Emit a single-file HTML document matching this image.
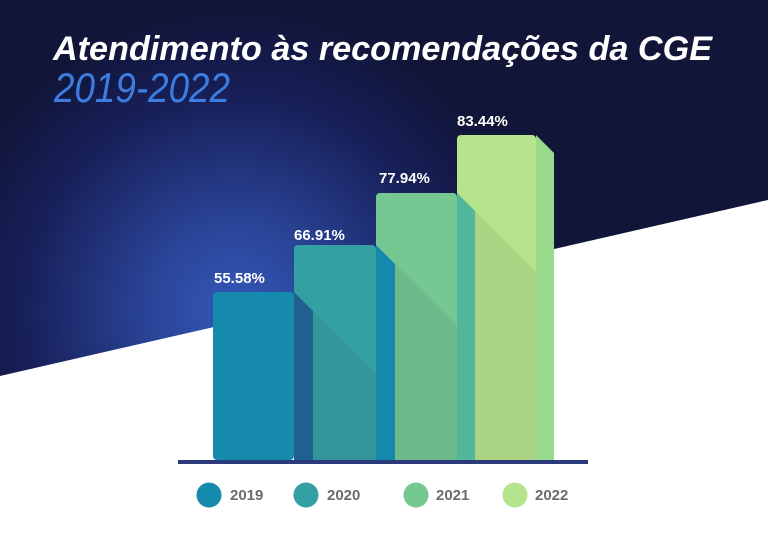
<!DOCTYPE html>
<html><head><meta charset="utf-8"><style>html,body{margin:0;padding:0;background:#fff}svg{display:block}</style></head>
<body>
<svg width="768" height="538" viewBox="0 0 768 538" xmlns="http://www.w3.org/2000/svg">
<defs>
<radialGradient id="glow" cx="235" cy="310" r="300" gradientUnits="userSpaceOnUse">
<stop offset="0" stop-color="#3358b8"/>
<stop offset="0.3" stop-color="#2a4396"/>
<stop offset="0.7" stop-color="#18205a"/>
<stop offset="1" stop-color="#111538"/>
</radialGradient>
</defs>
<rect width="768" height="538" fill="#fff"/>
<polygon points="0,0 768,0 768,200 0,376" fill="url(#glow)"/>
<text x="53" y="60" font-family="Liberation Sans, sans-serif" font-weight="bold" font-style="italic" font-size="34" fill="#fff" textLength="659" lengthAdjust="spacingAndGlyphs">Atendimento às recomendações da CGE</text>
<text x="54" y="102" font-family="Liberation Sans, sans-serif" font-style="italic" font-size="42" fill="#3d7de0" textLength="176" lengthAdjust="spacingAndGlyphs">2019-2022</text>

<polygon points="536,135 554,153 554,460 536,460" fill="#99d98c"/>
<rect x="457" y="135" width="79" height="325" rx="4" fill="#b5e48c"/>
<polygon points="475,211 536,272 536,460 475,460" fill="#aad484"/>
<polygon points="457,193 475,211 475,460 457,460" fill="#52b69a"/>
<rect x="376" y="193" width="81" height="267" rx="4" fill="#76c893"/>
<polygon points="395,264 457,326 457,460 395,460" fill="#6eb98a"/>
<polygon points="376,245 395,264 395,460 376,460" fill="#1589ab"/>
<rect x="294" y="245" width="82" height="215" rx="4" fill="#34a0a4"/>
<polygon points="313,311 376,374 376,460 313,460" fill="#33949a"/>
<polygon points="294,292 313,311 313,460 294,460" fill="#1f6090"/>
<rect x="213" y="292" width="81" height="168" rx="4" fill="#168aad"/>

<rect x="178" y="460" width="410" height="4" fill="#2a3a7a"/>

<g font-family="Liberation Sans, sans-serif" font-weight="bold" font-size="15" fill="#fff">
<text x="214" y="283">55.58%</text>
<text x="294" y="240">66.91%</text>
<text x="379" y="183">77.94%</text>
<text x="457" y="126">83.44%</text>
</g>

<g font-family="Liberation Sans, sans-serif" font-weight="bold" font-size="15" fill="#6b6b6b">
<circle cx="209" cy="495" r="12.5" fill="#168aad"/><text x="230" y="500">2019</text>
<circle cx="306" cy="495" r="12.5" fill="#34a0a4"/><text x="327" y="500">2020</text>
<circle cx="416" cy="495" r="12.5" fill="#76c893"/><text x="436" y="500">2021</text>
<circle cx="515" cy="495" r="12.5" fill="#b5e48c"/><text x="535" y="500">2022</text>
</g>
</svg>
</body></html>
